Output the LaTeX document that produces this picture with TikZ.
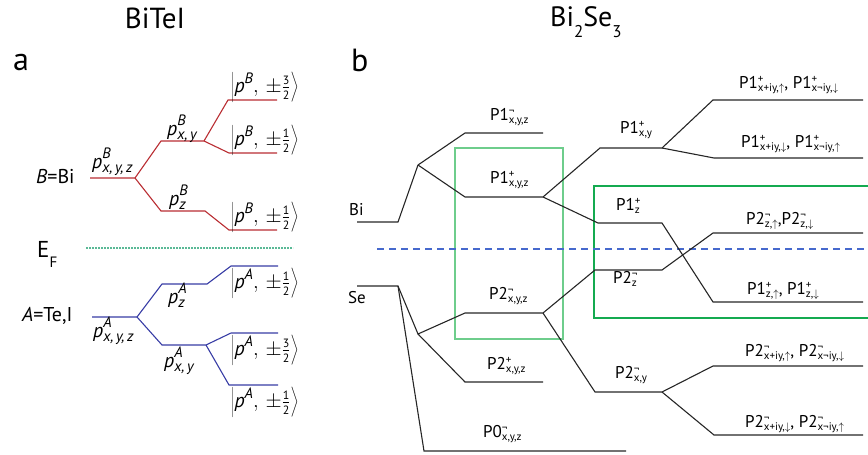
\documentclass[tikz,border=0pt]{standalone}
\usepackage{fontspec}
\setmainfont{PT Sans}
\definecolor{redl}{RGB}{185,45,50}
\definecolor{bluel}{RGB}{55,60,165}
\definecolor{efgreen}{RGB}{90,185,150}
\definecolor{fermiblue}{RGB}{70,105,205}
\definecolor{boxa}{RGB}{110,205,140}
\definecolor{boxb}{RGB}{20,170,80}
\newcommand\lv[3]{#1\makebox[0pt][l]{\raisebox{5.5pt}{\fontsize{11}{11}\selectfont#2}}\raisebox{-3.5pt}{\fontsize{11}{11}\selectfont#3}}
\newcommand\pa[2]{\textit{p}\makebox[0pt][l]{\raisebox{9.5pt}{\fontsize{15}{15}\selectfont\itshape#1}}\raisebox{-4pt}{\fontsize{15}{15}\selectfont\itshape#2}}
\newcommand\ketp[2]{$\left|\mbox{\itshape p\raisebox{8.5pt}{\fontsize{15}{15}\selectfont #1}},\,\pm\frac{\mbox{\fontsize{12}{12}\selectfont #2}}{\mbox{\fontsize{12}{12}\selectfont 2}}\right\rangle$}
\begin{document}
\begin{tikzpicture}[x=1pt,y=-1pt,
  redlvl/.style={draw=redl,line width=1.1pt},
  bluelvl/.style={draw=bluel,line width=1.1pt},
  blklvl/.style={draw=black!85,line width=1.1pt},
  lab/.style={inner sep=0pt,anchor=base west,font=\fontsize{17}{17}\selectfont},
  alab/.style={inner sep=0pt,anchor=base west,font=\fontsize{20}{20}\selectfont},
  ketlab/.style={inner sep=0pt,anchor=west,font=\fontsize{20}{20}\selectfont},
  big/.style={inner sep=0pt,anchor=base west,font=\fontsize{32}{32}\selectfont},
]
\useasboundingbox (0,0) rectangle (868,455);

% titles
\node[inner sep=0pt,anchor=base,font=\fontsize{29}{29}\selectfont] (t1) at (155,28) {BiTeI};
\node[inner sep=0pt,anchor=base west,font=\fontsize{28}{28}\selectfont] (t2) at (550,27) {Bi\raisebox{-10pt}{\fontsize{17}{17}\selectfont 2}Se\raisebox{-10pt}{\fontsize{17}{17}\selectfont 3}};
\node[big] (la) at (13,70) {a};
\node[big] (lb) at (351,71) {b};

% ---------- panel a ----------
\coordinate (b0l) at (90,178);  \coordinate (b0r) at (135,178);
\coordinate (bxyl) at (161,141); \coordinate (bxyr) at (204,141);
\coordinate (b32l) at (228,100); \coordinate (b32r) at (277,100);
\coordinate (b12l) at (229,153); \coordinate (b12r) at (277,153);
\coordinate (bzl) at (161,211);  \coordinate (bzr) at (205,211);
\coordinate (bz12l) at (229,230); \coordinate (bz12r) at (277,230);
\draw[redlvl] (b0l) -- (b0r) -- (bxyl) -- (bxyr) -- (b32l) -- (b32r);
\draw[redlvl] (bxyr) -- (b12l) -- (b12r);
\draw[redlvl] (b0r) -- (bzl) -- (bzr) -- (bz12l) -- (bz12r);

\coordinate (a0l) at (92,317);  \coordinate (a0r) at (137,317);
\coordinate (azl) at (162,284);  \coordinate (azr) at (207,284);
\coordinate (az12l) at (231,266); \coordinate (az12r) at (278,266);
\coordinate (axyl) at (162,345); \coordinate (axyr) at (206,345);
\coordinate (a32l) at (231,333); \coordinate (a32r) at (278,333);
\coordinate (a12l) at (229,385); \coordinate (a12r) at (278,385);
\draw[bluelvl] (a0l) -- (a0r) -- (azl) -- (azr) -- (az12l) -- (az12r);
\draw[bluelvl] (a0r) -- (axyl) -- (axyr) -- (a32l) -- (a32r);
\draw[bluelvl] (axyr) -- (a12l) -- (a12r);

\coordinate (efl) at (86,248); \coordinate (efr) at (293,248);
\draw[efgreen,line width=1.2pt,dash pattern=on 1.6pt off 1.4pt] (efl) -- (efr);

\node[alab] (bbi) at (36,183) {\textit{B}=Bi};
\node[alab] (ate) at (22,321) {\textit{A}=Te,I};
\node[inner sep=0pt,anchor=base west,font=\fontsize{23}{23}\selectfont] (ef) at (37,257) {E\raisebox{-10pt}{\fontsize{15}{15}\selectfont F}};

\node[alab] (pb1) at (92,168) {\pa{B}{x,\,y,\,z}};
\node[alab] (pb2) at (167,135) {\pa{B}{x,\,y}};
\node[alab] (pb3) at (169,205) {\pa{B}{z}};
\node[alab] (pa1) at (168,303) {\pa{A}{z}};
\node[alab] (pa2) at (93,337) {\pa{A}{x,\,y,\,z}};
\node[alab] (pa3) at (164,367) {\pa{A}{x,\,y}};

\node[ketlab] (k1) at (231,87) {\ketp{B}{3}};
\node[ketlab] (k2) at (231,140) {\ketp{B}{1}};
\node[ketlab] (k3) at (231,217) {\ketp{B}{1}};
\node[ketlab] (k4) at (231,283) {\ketp{A}{1}};
\node[ketlab] (k5) at (231,350) {\ketp{A}{3}};
\node[ketlab] (k6) at (231,402) {\ketp{A}{1}};

% ---------- panel b ----------
\draw[boxa,line width=1.2pt] (455,148) rectangle (563,339);
\draw[boxb,line width=1.2pt] (868,186) -- (594,186) -- (594,318) -- (868,318);
\coordinate (fl) at (377,249); \coordinate (fr) at (867,249);
\draw[fermiblue,line width=1.1pt,dash pattern=on 7pt off 5pt] (fl) -- (fr);

\coordinate (bi1) at (357,222); \coordinate (bi2) at (398,222);
\coordinate (n1) at (418,165);
\coordinate (p1mL) at (465,133); \coordinate (p1mR) at (543,133);
\coordinate (p1pL) at (465,197); \coordinate (p1pR) at (543,197);
\coordinate (p1xyL) at (600,148); \coordinate (p1xyR) at (662,148);
\coordinate (p1zL) at (598,223); \coordinate (p1zR) at (662,223);
\coordinate (r1L) at (713,100); \coordinate (r1R) at (863,100);
\coordinate (r2L) at (714,158); \coordinate (r2R) at (863,158);
\coordinate (r3L) at (713,233); \coordinate (r3R) at (863,233);
\coordinate (r4L) at (713,302); \coordinate (r4R) at (863,302);
\coordinate (p2zL) at (595,270); \coordinate (p2zR) at (662,270);
\coordinate (se1) at (357,286); \coordinate (se2) at (398,286);
\coordinate (n2) at (418,334);
\coordinate (p2mL) at (465,313); \coordinate (p2mR) at (543,313);
\coordinate (p2pL) at (465,382); \coordinate (p2pR) at (543,382);
\coordinate (p0L) at (424,451); \coordinate (p0R) at (626,451);
\coordinate (p2xyL) at (595,392); \coordinate (p2xyR) at (662,392);
\coordinate (r5L) at (713,366); \coordinate (r5R) at (863,366);
\coordinate (r6L) at (714,435); \coordinate (r6R) at (863,435);

\draw[blklvl] (bi1) -- (bi2) -- (n1) -- (p1mL) -- (p1mR);
\draw[blklvl] (n1) -- (p1pL) -- (p1pR) -- (p1xyL) -- (p1xyR) -- (r1L) -- (r1R);
\draw[blklvl] (p1xyR) -- (r2L) -- (r2R);
\draw[blklvl] (p1pR) -- (p1zL) -- (p1zR) -- (r4L) -- (r4R);
\draw[blklvl] (se1) -- (se2) -- (n2) -- (p2mL) -- (p2mR) -- (p2zL) -- (p2zR) -- (r3L) -- (r3R);
\draw[blklvl] (n2) -- (p2pL) -- (p2pR);
\draw[blklvl] (se2) -- (p0L) -- (p0R);
\draw[blklvl] (p2mR) -- (p2xyL) -- (p2xyR) -- (r5L) -- (r5R);
\draw[blklvl] (p2xyR) -- (r6L) -- (r6R);

\node[lab] (lbi) at (349,215) {Bi};
\node[lab] (lse) at (348,303) {Se};
\node[lab] (l1) at (490,120) {\lv{P1}{¬}{x,y,z}};
\node[lab] (l2) at (490,183) {\lv{P1}{+}{x,y,z}};
\node[lab] (l3) at (489,299) {\lv{P2}{¬}{x,y,z}};
\node[lab] (l4) at (487,369) {\lv{P2}{+}{x,y,z}};
\node[lab] (l5) at (483,437) {\lv{P0}{¬}{x,y,z}};
\node[lab] (l6) at (620,133) {\lv{P1}{+}{x,y}};
\node[lab] (l7) at (616,210) {\lv{P1}{+}{z}};
\node[lab] (l8) at (613,283) {\lv{P2}{¬}{z}};
\node[lab] (l9) at (615,378) {\lv{P2}{¬}{x,y}};
\node[lab] (m1) at (739,88) {\lv{P1}{+}{x+iy,$\uparrow$}, \lv{P1}{+}{x¬iy,$\downarrow$}};
\node[lab] (m2) at (741,147) {\lv{P1}{+}{x+iy,$\downarrow$}, \lv{P1}{+}{x¬iy,$\uparrow$}};
\node[lab] (m3) at (746,224) {\lv{P2}{¬}{z,$\uparrow$},\lv{P2}{¬}{z,$\downarrow$}};
\node[lab] (m4) at (747,294) {\lv{P1}{+}{z,$\uparrow$}, \lv{P1}{+}{z,$\downarrow$}};
\node[lab] (m5) at (745,356) {\lv{P2}{¬}{x+iy,$\uparrow$}, \lv{P2}{¬}{x¬iy,$\downarrow$}};
\node[lab] (m6) at (745,427) {\lv{P2}{¬}{x+iy,$\downarrow$}, \lv{P2}{¬}{x¬iy,$\uparrow$}};
\end{tikzpicture}
\end{document}
